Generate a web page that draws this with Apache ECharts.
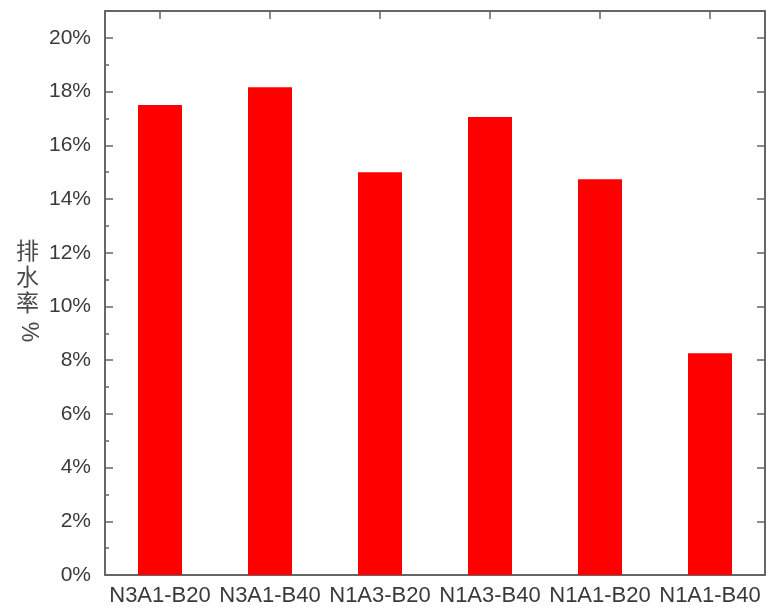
<!DOCTYPE html>
<html>
<head>
<meta charset="utf-8">
<script src="https://cdn.jsdelivr.net/npm/echarts@6/dist/echarts.min.js"></script>
<style>
  html, body { margin: 0; padding: 0; background: #fff; }
  #chart { width: 769px; height: 611px; }
</style>
</head>
<body>
<div id="chart"></div>
<script>
// Drainage rate for each mix
const categories = ['N3A1-B20', 'N3A1-B40', 'N1A3-B20', 'N1A3-B40', 'N1A1-B20', 'N1A1-B40'];
const drainRate = [17.5, 18.16, 15.0, 17.05, 14.74, 8.26];
const yMin = 0;
const yMax = 21;
const yStep = 2;

const frameColor = '#666';
const textColor = '#3a3a3a';
const fontFamily = 'Liberation Sans, Arial, sans-serif';

const chart = echarts.init(document.getElementById('chart'));

const frameLine = { show: true, onZero: false, lineStyle: { color: frameColor, width: 2 } };

chart.setOption({
  animation: false,
  backgroundColor: '#fff',
  grid: { left: 105, right: 4, top: 11, bottom: 36 },
  xAxis: [
    {
      type: 'category',
      data: categories,
      position: 'bottom',
      axisLine: frameLine,
      axisTick: { show: true, inside: true, alignWithLabel: true, length: 8, lineStyle: { color: '#333', width: 1.5 } },
      axisLabel: { margin: 10, interval: 0, fontFamily: fontFamily, fontSize: 22, color: textColor }
    },
    {
      type: 'category',
      data: categories,
      position: 'top',
      axisLine: frameLine,
      axisTick: { show: true, inside: true, alignWithLabel: true, length: 8, lineStyle: { color: frameColor, width: 1.5 } },
      axisLabel: { show: false }
    }
  ],
  yAxis: [
    {
      type: 'value',
      position: 'left',
      min: yMin, max: yMax, interval: yStep,
      axisLine: frameLine,
      axisTick: { show: true, inside: true, length: 8, lineStyle: { color: frameColor, width: 1.5 } },
      axisLabel: {
        margin: 14,
        fontFamily: fontFamily, fontSize: 21, color: textColor,
        formatter: v => (v % yStep === 0 ? v + '%' : '')
      },
      splitLine: { show: false }
    },
    {
      // minor ticks on the left edge
      type: 'value',
      position: 'left',
      min: yMin, max: yMax, interval: 1,
      axisLine: { show: false },
      axisTick: { show: true, inside: true, length: 4, lineStyle: { color: frameColor, width: 1.5 } },
      axisLabel: { show: false },
      splitLine: { show: false }
    },
    {
      type: 'value',
      position: 'right',
      min: yMin, max: yMax, interval: yStep,
      axisLine: frameLine,
      axisTick: { show: true, inside: true, length: 8, lineStyle: { color: frameColor, width: 1.5 } },
      axisLabel: { show: false },
      splitLine: { show: false }
    }
  ],
  graphic: [
    {
      type: 'text',
      left: 16,
      top: 237,
      style: {
        text: '排\n水\n率',
        font: '23px "Noto Sans CJK SC", sans-serif',
        fill: '#4a4a4a',
        lineHeight: 26,
        textAlign: 'left'
      }
    },
    {
      type: 'text',
      x: 28,
      y: 332,
      rotation: -Math.PI / 2,
      style: {
        text: '%',
        font: '23px "Liberation Sans", Arial, sans-serif',
        fill: '#4a4a4a',
        textAlign: 'center',
        textVerticalAlign: 'middle'
      }
    }
  ],
  series: [
    {
      type: 'bar',
      data: drainRate,
      xAxisIndex: 0,
      yAxisIndex: 0,
      barWidth: '40%',
      itemStyle: { color: '#ff0000' },
      z: 1
    }
  ]
});
</script>
</body>
</html>
